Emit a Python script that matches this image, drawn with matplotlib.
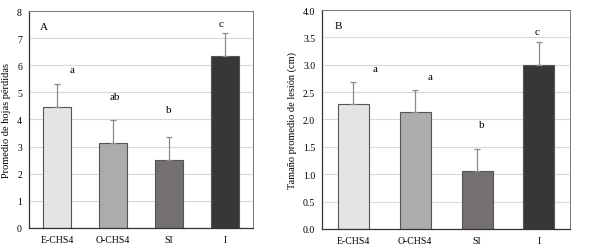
import matplotlib
matplotlib.use("Agg")
import matplotlib.pyplot as plt
import numpy as np

plt.rcParams["font.family"] = ["Liberation Serif", "DejaVu Serif"]

categories = ["E-CHS4", "O-CHS4", "SI", "I"]
colors = ["#e4e4e4", "#acacac", "#757070", "#383636"]

hojas_mean = [4.45, 3.12, 2.50, 6.33]
hojas_err = [0.85, 0.87, 0.85, 0.85]
hojas_letters = ["a", "ab", "b", "c"]
hojas_letter_x = [0.27, 1.04, 2.0, 2.93]
hojas_letter_y = [5.85, 4.86, 4.37, 7.55]

lesion_mean = [2.28, 2.14, 1.06, 3.00]
lesion_err = [0.40, 0.40, 0.40, 0.41]
lesion_letters = ["a", "a", "b", "c"]
lesion_letter_x = [0.35, 1.24, 2.08, 2.97]
lesion_letter_y = [2.94, 2.78, 1.90, 3.61]


def panel(ax, means, errs, letters, letter_x, letter_y, ymax, step, ylabel, tag, fmt):
    x = np.arange(len(categories))
    ax.set_axisbelow(True)
    ax.yaxis.grid(True, color="#d9d9d9", lw=0.8)
    ax.bar(x, means, width=0.5, color=colors, edgecolor="#555555", lw=0.8)
    ax.errorbar(x, means, yerr=[np.zeros(len(means)), errs], fmt="none",
                ecolor="#8a8a8a", elinewidth=0.9, capsize=2.5, capthick=0.9)
    for lx, lab, ly in zip(letter_x, letters, letter_y):
        ax.text(lx, ly, lab, ha="center", va="center", fontsize=8)
    ax.text(0.05, 0.93, tag, transform=ax.transAxes, ha="left", va="center", fontsize=8)
    ax.set_xlim(-0.5, len(categories) - 0.5)
    ax.set_ylim(0, ymax)
    ticks = np.arange(0, ymax + step / 2, step)
    ax.set_yticks(ticks)
    ax.set_yticklabels([fmt.format(v) for v in ticks])
    ax.set_xticks(x)
    ax.set_xticklabels(categories)
    ax.tick_params(length=0, labelsize=7, pad=5)
    ax.set_ylabel(ylabel, fontsize=7.5)
    for s in ["left", "bottom"]:
        ax.spines[s].set_color("#333333")
        ax.spines[s].set_linewidth(0.9)
    for s in ["top", "right"]:
        ax.spines[s].set_color("#777777")
        ax.spines[s].set_linewidth(0.7)


fig = plt.figure(figsize=(5.9, 2.51), dpi=100)
ax1 = fig.add_axes([0.049, 0.088, 0.380, 0.864])
ax2 = fig.add_axes([0.546, 0.084, 0.420, 0.872])

panel(ax1, hojas_mean, hojas_err, hojas_letters, hojas_letter_x, hojas_letter_y, 8, 1,
      "Promedio de hojas pérdidas", "A", "{:.0f}")
panel(ax2, lesion_mean, lesion_err, lesion_letters, lesion_letter_x, lesion_letter_y, 4.0, 0.5,
      "Tamaño promedio de lesión (cm)", "B", "{:.1f}")

fig.savefig("out.png", dpi=100)
